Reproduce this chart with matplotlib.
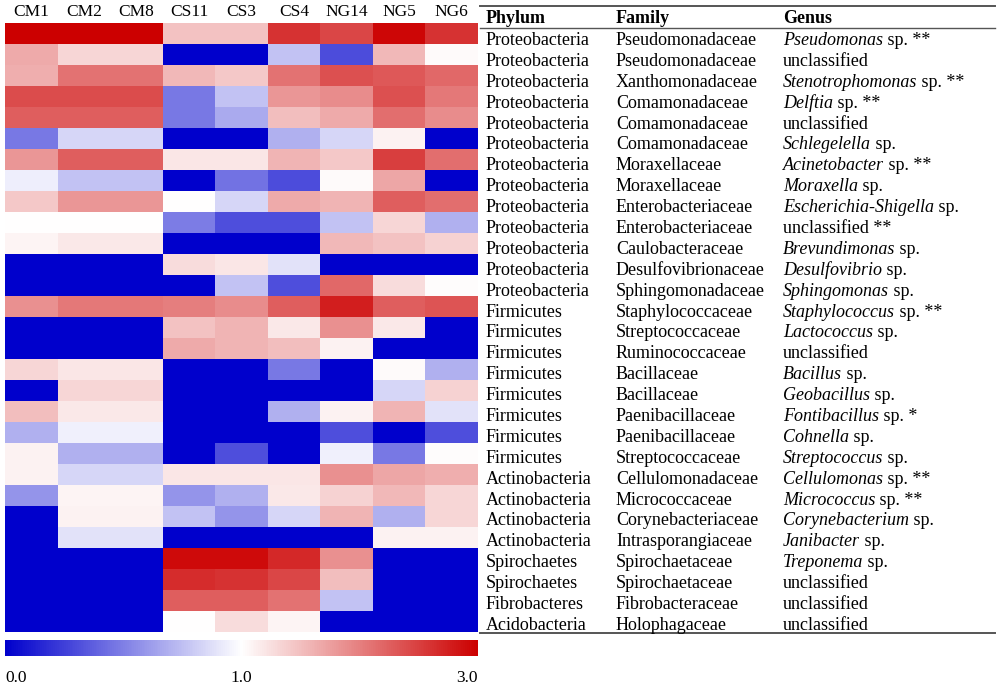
import numpy as np
import matplotlib
matplotlib.use("Agg")
import matplotlib.pyplot as plt
from matplotlib.colors import LinearSegmentedColormap, TwoSlopeNorm

# ---------------- data ----------------
samples = ["CM1", "CM2", "CM8", "CS11", "CS3", "CS4", "NG14", "NG5", "NG6"]

CM1 = [3.0, 1.67, 1.63, 2.4, 2.25, 0.47, 1.82, 0.93, 1.43, 1.0, 1.08, 0, 0, 1.86, 0, 0,
       1.32, 0, 1.5, 0.69, 1.1, 1.1, 0.58, 0, 0, 0, 0, 0, 0]
CM2 = [3.0, 1.32, 2.1, 2.4, 2.25, 0.84, 2.25, 0.76, 1.82, 1.0, 1.18, 0, 0, 2.06, 0, 0,
       1.2, 1.32, 1.18, 0.94, 0.69, 0.84, 1.08, 1.1, 0.89, 0, 0, 0, 0]
CM8 = [3.0, 1.32, 2.1, 2.4, 2.25, 0.84, 2.25, 0.76, 1.82, 1.0, 1.18, 0, 0, 2.06, 0, 0,
       1.2, 1.32, 1.18, 0.94, 0.69, 0.84, 1.08, 1.1, 0.89, 0, 0, 0, 0]
CS11 = [1.47, 0, 1.55, 0.47, 0.47, 0, 1.2, 0, 1.0, 0.49, 0, 1.28, 0, 2.0, 1.47, 1.67,
        0, 0, 0, 0, 0, 1.2, 0.58, 0.76, 0, 2.92, 2.65, 2.25, 1.0]
CS3 = [1.47, 0, 1.43, 0.76, 0.67, 0, 1.2, 0.45, 0.84, 0.31, 0, 1.2, 0.76, 1.9, 1.58, 1.58,
       0, 0, 0, 0, 0.31, 1.2, 0.69, 0.58, 0, 2.92, 2.6, 2.25, 1.28]
CS4 = [2.6, 0.76, 2.1, 1.82, 1.5, 0.69, 1.58, 0.3, 1.67, 0.31, 0, 0.89, 0.31, 2.25, 1.18, 1.5,
       0.47, 0, 0.69, 0, 0, 1.2, 1.18, 0.84, 0, 2.68, 2.45, 2.1, 1.08]
NG14 = [2.45, 0.3, 2.37, 1.9, 1.67, 0.84, 1.43, 1.04, 1.58, 0.76, 1.55, 0, 2.18, 2.76, 1.86, 1.1,
        0, 0, 1.1, 0.31, 0.94, 1.86, 1.35, 1.58, 0, 1.86, 1.5, 0.76, 0]
NG5 = [2.95, 1.55, 2.3, 2.37, 2.13, 1.1, 2.5, 1.7, 2.25, 1.32, 1.47, 0, 1.28, 2.25, 1.18, 0,
       1.04, 0.84, 1.58, 0, 0.47, 1.7, 1.55, 0.69, 1.1, 0, 0, 0, 0]
NG6 = [2.6, 1.04, 2.18, 2.06, 1.9, 0, 2.13, 0, 2.13, 0.69, 1.35, 0, 1.02, 2.33, 0, 0,
       0.69, 1.35, 0.89, 0.31, 1.02, 1.63, 1.32, 1.32, 1.1, 0, 0, 0, 0]

phylum = ["Proteobacteria"] * 13 + ["Firmicutes"] * 8 + ["Actinobacteria"] * 4 + \
         ["Spirochaetes", "Spirochaetes", "Fibrobacteres", "Acidobacteria"]
family = ["Pseudomonadaceae", "Pseudomonadaceae", "Xanthomonadaceae", "Comamonadaceae",
          "Comamonadaceae", "Comamonadaceae", "Moraxellaceae", "Moraxellaceae",
          "Enterobacteriaceae", "Enterobacteriaceae", "Caulobacteraceae", "Desulfovibrionaceae",
          "Sphingomonadaceae", "Staphylococcaceae", "Streptococcaceae", "Ruminococcaceae",
          "Bacillaceae", "Bacillaceae", "Paenibacillaceae", "Paenibacillaceae",
          "Streptococcaceae", "Cellulomonadaceae", "Micrococcaceae", "Corynebacteriaceae",
          "Intrasporangiaceae", "Spirochaetaceae", "Spirochaetaceae", "Fibrobacteraceae",
          "Holophagaceae"]
genus_italic = ["Pseudomonas", "", "Stenotrophomonas", "Delftia", "", "Schlegelella",
                "Acinetobacter", "Moraxella", "Escherichia-Shigella", "", "Brevundimonas",
                "Desulfovibrio", "Sphingomonas", "Staphylococcus", "Lactococcus", "",
                "Bacillus", "Geobacillus", "Fontibacillus", "Cohnella", "Streptococcus",
                "Cellulomonas", "Micrococcus", "Corynebacterium", "Janibacter", "Treponema",
                "", "", ""]
genus_rest = [" sp. **", "unclassified", " sp. **", " sp. **", "unclassified", " sp.",
              " sp. **", " sp.", " sp.", "unclassified **", " sp.", " sp.", " sp.",
              " sp. **", " sp.", "unclassified", " sp.", " sp.", " sp. *", " sp.", " sp.",
              " sp. **", " sp. **", " sp.", " sp.", " sp.", "unclassified", "unclassified",
              "unclassified"]
headers = ["Phylum", "Family", "Genus"]
cbar_ticks = [0.0, 1.0, 3.0]

# ---------------- figure ----------------
W, H = 1000, 686
fig = plt.figure(figsize=(W / 100, H / 100), dpi=100)
serif = "Liberation Serif"
fs = 12.5
fs_tab = 13

def px_axes(x0, y0, x1, y1):
    return fig.add_axes([x0 / W, 1 - y1 / H, (x1 - x0) / W, (y1 - y0) / H])

data = np.array([CM1, CM2, CM8, CS11, CS3, CS4, NG14, NG5, NG6]).T
cmap = LinearSegmentedColormap.from_list("bwr_custom", ["#0000CC", "#FFFFFF", "#CC0000"])
norm = TwoSlopeNorm(vmin=0.0, vcenter=1.0, vmax=3.0)

ax = px_axes(5, 22.7, 478, 632)
mesh = ax.pcolormesh(np.arange(len(samples) + 1), np.arange(data.shape[0] + 1), data,
                     cmap=cmap, norm=norm, shading="flat")
ax.set_xlim(0, len(samples))
ax.set_ylim(data.shape[0], 0)
ax.set_xticks(np.arange(len(samples)) + 0.5)
ax.set_xticklabels(samples, fontfamily=serif, fontsize=fs)
ax.xaxis.tick_top()
ax.tick_params(axis="x", length=0, pad=2)
ax.set_yticks([])
for s in ax.spines.values():
    s.set_visible(False)

# colorbar
cax = px_axes(5, 640, 478, 656)
cb = fig.colorbar(mesh, cax=cax, orientation="horizontal")
cb.outline.set_visible(False)
cb.set_ticks(cbar_ticks)
cb.set_ticklabels([f"{t:.1f}" for t in cbar_ticks])
cax.tick_params(axis="x", length=0, pad=10, labelsize=fs)
for lab in cax.get_xticklabels():
    lab.set_fontfamily(serif)
labs = cax.get_xticklabels()
labs[0].set_horizontalalignment("left")
labs[-1].set_horizontalalignment("right")

# table
tab = fig.add_axes([0, 0, 1, 1])
tab.set_xlim(0, W)
tab.set_ylim(H, 0)
tab.axis("off")
tab.patch.set_alpha(0)

col_x = [486, 616, 783]
line_color = "#555555"
tab.plot([480, 995], [6, 6], color=line_color, lw=1.4)
tab.plot([480, 995], [28.3, 28.3], color=line_color, lw=1.0)
tab.plot([480, 995], [633.3, 633.3], color=line_color, lw=1.4)
for x, h in zip(col_x, headers):
    tab.text(x, 23, h, fontfamily=serif, fontsize=fs_tab, fontweight="bold", va="baseline")

row0, dy = 45.0, 20.89
italic_texts = []
for i in range(len(phylum)):
    yb = row0 + i * dy
    tab.text(col_x[0], yb, phylum[i], fontfamily=serif, fontsize=fs_tab, va="baseline")
    tab.text(col_x[1], yb, family[i], fontfamily=serif, fontsize=fs_tab, va="baseline")
    if genus_italic[i]:
        t = tab.text(col_x[2], yb, genus_italic[i], fontfamily=serif, fontsize=fs_tab,
                     fontstyle="italic", va="baseline")
        italic_texts.append((t, yb, genus_rest[i]))
    else:
        tab.text(col_x[2], yb, genus_rest[i], fontfamily=serif, fontsize=fs_tab, va="baseline")

fig.canvas.draw()
r = fig.canvas.get_renderer()
inv = tab.transData.inverted()
for t, yb, rest in italic_texts:
    bb = t.get_window_extent(renderer=r)
    xend = inv.transform((bb.x1, bb.y0))[0]
    tab.text(xend, yb, rest, fontfamily=serif, fontsize=fs_tab, va="baseline")

fig.savefig("out.png", dpi=100)
